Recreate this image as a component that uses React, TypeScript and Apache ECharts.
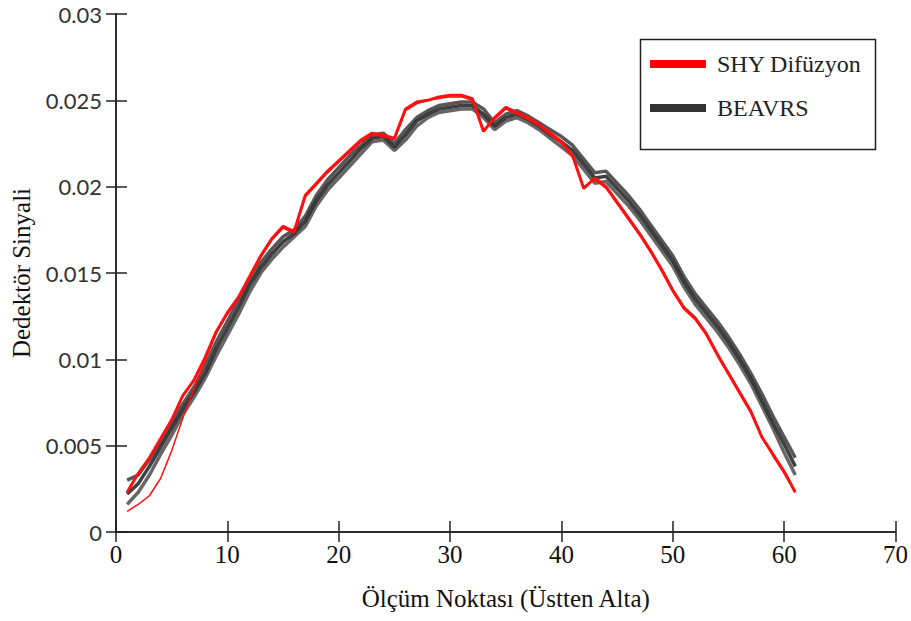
import React, { useEffect, useRef } from "react";
import * as echarts from "echarts";

// Measurement points 1..61
const points: number[] = Array.from({ length: 61 }, (_, i) => i + 1);

const shyMain: number[] = [
  0.0023, 0.0034, 0.0043, 0.0054, 0.0065, 0.0079, 0.0088, 0.0101, 0.0116, 0.0127,
  0.0136, 0.0148, 0.0160, 0.0170, 0.0177, 0.0174, 0.0195, 0.0202, 0.0209, 0.0215,
  0.0221, 0.0227, 0.0231, 0.0230, 0.0228, 0.0245, 0.0249, 0.0250, 0.0252, 0.0253,
  0.0253, 0.0251, 0.0232, 0.0240, 0.0246, 0.0243, 0.0240, 0.0236, 0.0231, 0.0226,
  0.0218, 0.0199, 0.0205, 0.0200, 0.0191, 0.0182, 0.0173, 0.0163, 0.0152, 0.0140,
  0.0130, 0.0124, 0.0115, 0.0103, 0.0092, 0.0081, 0.0070, 0.0055, 0.0045, 0.0035,
  0.0023,
];

const shyLowStart: number[] = [
  0.0012, 0.0016, 0.0021, 0.0031, 0.0047, 0.0066, 0.0083, 0.0099, 0.0115, 0.0126,
  0.0135, 0.0147, 0.0159, 0.0169, 0.0176, 0.0173, 0.0194, 0.0201, 0.0208, 0.0214,
  0.0220, 0.0226, 0.0230, 0.0229, 0.0227, 0.0244, 0.0248, 0.0250, 0.0251, 0.0252,
  0.0252, 0.0250, 0.0233, 0.0239, 0.0245, 0.0242, 0.0239, 0.0235, 0.0230, 0.0225,
  0.0217, 0.0200, 0.0204, 0.0199, 0.0190, 0.0181, 0.0172, 0.0162, 0.0151, 0.0139,
  0.0129, 0.0123, 0.0114, 0.0102, 0.0091, 0.0080, 0.0069, 0.0055, 0.0044, 0.0034,
  0.0023,
];

const beavrsMid: number[] = [
  0.0022, 0.0028, 0.0038, 0.0049, 0.0060, 0.0071, 0.0081, 0.0092, 0.0106, 0.0118,
  0.0130, 0.0143, 0.0153, 0.0161, 0.0168, 0.0173, 0.0180, 0.0192, 0.0201, 0.0208,
  0.0215, 0.0222, 0.0228, 0.0229, 0.0223, 0.0230, 0.0238, 0.0242, 0.0245, 0.0246,
  0.0247, 0.0247, 0.0242, 0.0235, 0.0240, 0.0242, 0.0239, 0.0235, 0.0230, 0.0226,
  0.0221, 0.0213, 0.0205, 0.0206, 0.0199, 0.0192, 0.0184, 0.0175, 0.0166, 0.0157,
  0.0145, 0.0135, 0.0127, 0.0119, 0.0110, 0.0100, 0.0089, 0.0076, 0.0063, 0.0051,
  0.0038,
];

const beavrsHigh: number[] = [
  0.0030, 0.0033, 0.0042, 0.0052, 0.0063, 0.0074, 0.0084, 0.0096, 0.0110, 0.0122,
  0.0134, 0.0146, 0.0156, 0.0164, 0.0171, 0.0175, 0.0183, 0.0195, 0.0204, 0.0211,
  0.0218, 0.0224, 0.0230, 0.0231, 0.0225, 0.0233, 0.0240, 0.0244, 0.0247, 0.0248,
  0.0249, 0.0249, 0.0245, 0.0237, 0.0242, 0.0244, 0.0241, 0.0237, 0.0233, 0.0229,
  0.0224, 0.0216, 0.0208, 0.0209, 0.0202, 0.0195, 0.0187, 0.0178, 0.0169, 0.0160,
  0.0148, 0.0138, 0.0130, 0.0122, 0.0113, 0.0103, 0.0092, 0.0080, 0.0067, 0.0055,
  0.0043,
];

const beavrsLow: number[] = [
  0.0016, 0.0023, 0.0033, 0.0045, 0.0056, 0.0068, 0.0078, 0.0089, 0.0102, 0.0114,
  0.0126, 0.0139, 0.0150, 0.0158, 0.0165, 0.0171, 0.0177, 0.0189, 0.0198, 0.0205,
  0.0212, 0.0219, 0.0226, 0.0227, 0.0221, 0.0227, 0.0235, 0.0240, 0.0243, 0.0244,
  0.0245, 0.0245, 0.0240, 0.0233, 0.0238, 0.0240, 0.0237, 0.0233, 0.0228, 0.0223,
  0.0218, 0.0210, 0.0202, 0.0203, 0.0196, 0.0189, 0.0181, 0.0172, 0.0163, 0.0154,
  0.0142, 0.0132, 0.0124, 0.0116, 0.0107, 0.0097, 0.0086, 0.0073, 0.0060, 0.0046,
  0.0033,
];

const SHY = "SHY Difüzyon";
const BEAVRS = "BEAVRS";

const pair = (ys: number[]) => points.map((x, i) => [x, ys[i]]);

export default function App() {
  const ref = useRef<HTMLDivElement>(null);
  useEffect(() => {
    document.body.style.margin = "0";
    if (!ref.current) return;
    const chart = echarts.init(ref.current, undefined, { renderer: "svg" });
    const serif = "'Liberation Serif', 'DejaVu Serif', serif";
    const blackLine = (ys: number[], color: string, width: number) => ({
      name: BEAVRS,
      type: "line",
      data: pair(ys),
      showSymbol: false,
      symbol: "none",
      color: "#333333",
      lineStyle: { color, width, opacity: 0.9 },
      z: 2,
    });
    const redLine = (ys: number[], width: number) => ({
      name: SHY,
      type: "line",
      data: pair(ys),
      showSymbol: false,
      symbol: "none",
      color: "#ff0000",
      lineStyle: { color: "#ff1010", width },
      z: 3,
    });
    const axisLine = { show: true, lineStyle: { color: "#222", width: 1.5 } };
    chart.setOption({
      animation: false,
      backgroundColor: "#ffffff",
      grid: { left: 116, right: 13, top: 14, bottom: 89, containLabel: false },
      legend: {
        data: [SHY, BEAVRS],
        orient: "vertical",
        left: 650,
        top: 52,
        padding: 0,
        icon: "rect",
        itemWidth: 56,
        itemHeight: 8,
        itemGap: 20,
        textStyle: { fontFamily: serif, fontSize: 24, color: "#222", lineHeight: 24, padding: [0, 0, 0, 6] },
      },
      graphic: [
        {
          type: "rect",
          left: 638,
          top: 37,
          shape: { width: 235, height: 110 },
          style: { fill: "none", stroke: "#222", lineWidth: 1.5 },
          z: 1,
        },
      ],
      xAxis: [
        {
          type: "value",
          min: 0,
          max: 70,
          interval: 10,
          position: "bottom",
          axisLine,
          axisTick: { show: true, inside: true, length: 11, lineStyle: { color: "#222", width: 1.5 } },
          axisLabel: { fontFamily: serif, fontSize: 25, color: "#111", margin: 10 },
          splitLine: { show: false },
          name: "Ölçüm Noktası (Üstten Alta)",
          nameLocation: "middle",
          nameGap: 54,
          nameTextStyle: { fontFamily: serif, fontSize: 25, color: "#111" },
        },
        {
          type: "value",
          min: 0,
          max: 70,
          interval: 10,
          position: "top",
          axisLine,
          axisTick: { show: true, inside: true, length: 10, lineStyle: { color: "#222", width: 1.5 } },
          axisLabel: { show: false },
          splitLine: { show: false },
        },
      ],
      yAxis: [
        {
          type: "value",
          min: 0,
          max: 0.03,
          interval: 0.005,
          position: "left",
          axisLine,
          axisTick: { show: true, inside: true, length: 11, lineStyle: { color: "#222", width: 1.5 } },
          axisLabel: { fontFamily: "Lato, 'Open Sans', sans-serif", fontSize: 22, color: "#333", margin: 14 },
          splitLine: { show: false },
          name: "Dedektör Sinyali",
          nameLocation: "middle",
          nameRotate: 90,
          nameGap: 82,
          nameTextStyle: { fontFamily: serif, fontSize: 25, color: "#111" },
        },
        {
          type: "value",
          min: 0,
          max: 0.03,
          interval: 0.005,
          position: "right",
          axisLine,
          axisTick: { show: true, inside: true, length: 10, lineStyle: { color: "#222", width: 1.5 } },
          axisLabel: { show: false },
          splitLine: { show: false },
        },
      ],
      series: [
        blackLine(beavrsLow, "#555555", 3.5),
        blackLine(beavrsHigh, "#444444", 3.5),
        blackLine(beavrsMid, "#2a2a2a", 3.5),
        redLine(shyLowStart, 1.5),
        redLine(shyMain, 3),
      ],
    });
    return () => chart.dispose();
  }, []);
  return <div ref={ref} style={{ width: 911, height: 621 }} />;
}
